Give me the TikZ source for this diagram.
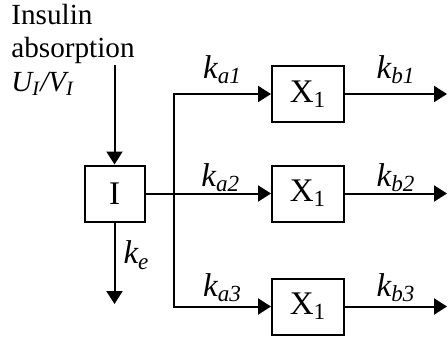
\documentclass[tikz,border=0pt]{standalone}
\usepackage{fontspec}
\setmainfont{Liberation Serif}
\usetikzlibrary{arrows.meta}
\tikzset{
    blk/.style={draw,line width=1pt,inner sep=0pt,minimum height=28pt,font=\fontsize{16.5}{19}\selectfont},
    flow/.style={line width=1pt,-{Triangle[length=6.5pt,width=8pt]}},
    rate/.style={inner sep=0pt,font=\fontsize{16.5}{19}\selectfont\itshape}
}

\begin{document}
\begin{tikzpicture}[x=0.5pt,y=0.5pt]
    \useasboundingbox (0,0) rectangle (448,338);
    % source text and the insulin compartment
    \node [align=left,anchor=north west,inner sep=0pt,font=\fontsize{14.6}{16.6}\selectfont] (src) at (11,334)
        {Insulin\\absorption\\\textit{U\textsubscript{I}/V\textsubscript{I}}};
    \node [blk,minimum width=30pt] (I) at (114.5,144.5) {I};
    \coordinate (in) at (114.5,273);
    \coordinate (ke) at (114.5,34);
    \draw [flow] (in) -- (I);
    \draw [flow] (I) -- node[rate,pos=0.4,right=4pt] {k\textsubscript{e}} (ke);
    % the three X compartments with their outflows
    \foreach \n/\y/\gap in {1/244/4.5pt,2/144.5/0.5pt,3/31.5/2pt} {
        \node [blk,minimum width=36pt] (X\n) at (308,\y) {X\textsubscript{1}};
        \coordinate (out\n) at (447,\y);
        \draw [flow] (X\n) -- node[rate,above=\gap] {k\textsubscript{b\n}} (out\n);
    }
    % split towards the X compartments
    \coordinate (s1) at (174,244);
    \coordinate (s3) at (174,31.5);
    \draw [flow] (s3) -- (s1) -- node[rate,above=4.5pt] {k\textsubscript{a1}} (X1);
    \draw [flow] (s1) -- (s3) -- node[rate,above=2pt] {k\textsubscript{a3}} (X3);
    \draw [flow] (I) -- node[rate,pos=0.6,above=0.5pt] {k\textsubscript{a2}} (X2);
\end{tikzpicture}
\end{document}
